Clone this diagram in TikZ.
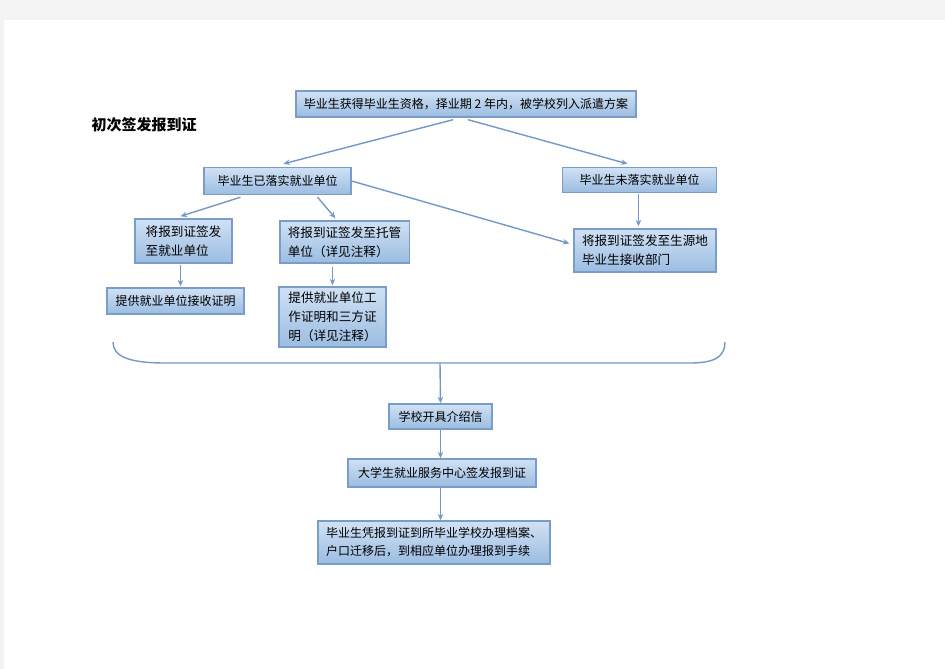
\documentclass[tikz,border=0pt]{standalone}
\usepackage{fontspec}
\setmainfont{Liberation Serif}
\newfontfamily\cjk{Noto Sans CJK SC}
\usetikzlibrary{arrows.meta,calc}
\definecolor{boxtop}{RGB}{208,225,244}
\definecolor{boxbot}{RGB}{155,188,225}
\definecolor{boxline}{RGB}{122,157,200}
\definecolor{arr}{RGB}{118,152,198}
\definecolor{pagegray}{RGB}{244,244,244}
\begin{document}
\begin{tikzpicture}[x=1pt,y=-1pt,
  box/.style={draw=boxline,line width=1.4pt,top color=boxtop,bottom color=boxbot,
    inner xsep=8pt,inner ysep=0pt,align=left,anchor=center,text=black,
    font=\cjk\fontsize{12}{18}\selectfont},
  mbox/.style={box,font=\cjk\fontsize{12.6}{19}\selectfont},
  conn/.style={draw=arr,line width=1.4pt,-{Stealth[length=6.5pt,width=5.5pt]}}]
\useasboundingbox (0,0) rectangle (945,669);
\fill[pagegray] (0,0) rectangle (945,669);
\fill[white] (4,20) rectangle (945,669);

\node[font=\cjk\bfseries\fontsize{15}{18}\selectfont] (title) at (144,125) {初次签发报到证};

\node[box,minimum width=334pt,minimum height=26pt] (n1) at (466,104) {毕业生获得毕业生资格，择业期 2 年内，被学校列入派遣方案};
\node[box,minimum width=147pt,minimum height=27pt] (n3) at (277.5,181) {毕业生已落实就业单位};
\node[box,minimum width=154pt,minimum height=25pt] (n4) at (639.5,180) {毕业生未落实就业单位};
\node[mbox,minimum width=97pt,minimum height=44pt] (n5) at (183.5,241) {将报到证签发\\至就业单位};
\node[mbox,minimum width=125pt,minimum height=42pt] (n6) at (344.5,242) {将报到证签发至托管\\单位（详见注释）};
\node[box,minimum width=137pt,minimum height=26pt] (n7) at (175.5,301) {提供就业单位接收证明};
\node[mbox,minimum width=107pt,minimum height=60pt] (n8) at (332.5,317) {提供就业单位工\\作证明和三方证\\明（详见注释）};
\node[mbox,minimum width=140pt,minimum height=43pt] (n9) at (645,250.5) {将报到证签发至生源地\\毕业生接收部门};
\node[box,minimum width=103pt,minimum height=25pt] (n11) at (440.5,416.5) {学校开具介绍信};
\node[box,minimum width=188pt,minimum height=28pt] (n12) at (442,473) {大学生就业服务中心签发报到证};
\node[box,minimum width=230pt,minimum height=43pt] (n13) at (434,542.5) {毕业生凭报到证到所毕业学校办理档案、\\户口迁移后，到相应单位办理报到手续};

% brace
\coordinate (bl) at (113,342);
\coordinate (br) at (725,342);
\coordinate (bc) at (440,363);
\draw[arr,line width=1.4pt] (bl) .. controls (113,356) and (128,363) .. (165,363)
  -- (690,363) .. controls (716,363) and (725,356) .. (br);

% connectors
\draw[conn] ($(n1.south)+(-13,2)$) -- ($(n3.north)+(6,-3)$);
\draw[conn] ($(n1.south)+(2,2)$) -- ($(n4.north)+(-12,-3)$);
\draw[conn] ($(n3.south)+(-37,2)$) -- ($(n5.north)+(-3,-2)$);
\draw[conn] ($(n3.south)+(40,2)$) -- ($(n6.north)+(-9,-2)$);
\draw[conn] ($(n3.east)+(0,0)$) -- ($(n9.west)+(-4,-7)$);
\draw[conn] ($(n4.south)+(-1,1)$) -- ($(n4.south |- n9.north)+(-1,-2)$);
\draw[conn] ($(n5.south)+(-3,1)$) -- ($(n5.south |- n7.north)+(-3,-1)$);
\draw[conn] ($(n8.north |- n6.south)+(0,3)$) -- ($(n8.north)+(0,-1)$);
\draw[conn] (bc) -- (n11.north);
\draw[conn] (n11.south) -- (n11.south |- n12.north);
\draw[conn] (n11.south |- n12.south) -- (n11.south |- n13.north);
\end{tikzpicture}
\end{document}
